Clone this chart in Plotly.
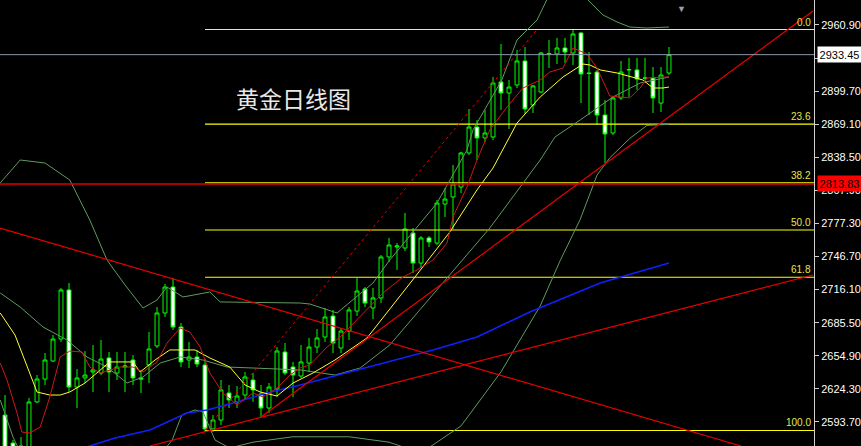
import plotly.graph_objects as go

# ---------------- candle data (daily gold) ----------------
opens = [2600.1, 2574.2, 2565.9, 2567.8, 2612.2, 2633.4, 2650.1, 2670.4, 2715.8, 2626.0,
         2634.4, 2639.9, 2639.0, 2652.9, 2639.0, 2644.5, 2651.0, 2634.4, 2646.4, 2664.0,
         2694.5, 2718.5, 2681.5, 2651.0, 2653.8, 2646.4, 2587.2, 2595.5, 2620.5, 2612.2,
         2618.6, 2632.5, 2619.6, 2606.6, 2624.2, 2658.4, 2644.5, 2636.2, 2648.2, 2663.0,
         2672.3, 2691.7, 2662.1, 2677.8, 2696.3, 2716.7, 2699.1, 2708.4, 2746.3, 2755.5,
         2754.6, 2768.5, 2740.7, 2763.9, 2759.2, 2795.3, 2801.8, 2811.0, 2842.5, 2866.5,
         2856.4, 2857.3, 2908.2, 2898.0, 2905.4, 2927.6, 2886.9, 2898.9, 2934.1, 2934.1,
         2939.6, 2935.0, 2953.5, 2916.5, 2917.4, 2877.6, 2861.0, 2893.4, 2919.3, 2919.3,
         2911.9, 2911.9, 2888.7, 2916.5]
highs = [2618.6, 2577.0, 2579.8, 2615.9, 2637.1, 2657.5, 2674.1, 2717.6, 2722.2, 2642.7,
         2659.3, 2664.9, 2669.5, 2658.4, 2658.4, 2658.4, 2655.6, 2641.8, 2676.9, 2700.0,
         2721.3, 2726.9, 2685.2, 2667.7, 2660.3, 2651.9, 2600.1, 2632.5, 2627.9, 2627.0,
         2639.9, 2639.0, 2627.9, 2629.7, 2663.0, 2666.7, 2649.2, 2664.9, 2671.4, 2679.7,
         2699.1, 2697.3, 2680.6, 2700.0, 2726.9, 2718.5, 2717.6, 2748.1, 2763.9, 2759.2,
         2787.0, 2773.1, 2765.7, 2765.7, 2799.0, 2810.1, 2831.4, 2843.4, 2883.2, 2873.0,
         2882.3, 2912.8, 2943.3, 2910.0, 2937.8, 2940.5, 2905.4, 2935.9, 2947.0, 2948.9,
         2948.9, 2957.2, 2954.4, 2935.9, 2919.3, 2891.5, 2895.2, 2927.6, 2930.4, 2930.4,
         2930.4, 2922.0, 2922.0, 2940.5]
lows = [2563.1, 2560.4, 2560.4, 2563.1, 2611.2, 2627.9, 2649.2, 2667.7, 2621.4, 2606.6,
        2629.7, 2621.4, 2637.1, 2621.4, 2632.5, 2621.4, 2627.9, 2620.5, 2629.7, 2662.1,
        2690.8, 2678.8, 2644.5, 2643.6, 2644.5, 2584.4, 2584.4, 2590.9, 2606.6, 2606.6,
        2614.0, 2612.2, 2598.3, 2602.0, 2616.8, 2637.1, 2616.8, 2634.4, 2639.9, 2657.5,
        2667.7, 2657.5, 2657.5, 2669.5, 2691.7, 2700.0, 2688.9, 2703.7, 2741.7, 2734.3,
        2751.8, 2731.5, 2736.1, 2755.5, 2757.4, 2783.3, 2772.2, 2805.5, 2840.6, 2836.0,
        2852.7, 2854.5, 2882.3, 2864.7, 2902.6, 2878.6, 2879.5, 2898.0, 2921.1, 2924.8,
        2925.7, 2923.9, 2888.7, 2877.6, 2868.4, 2833.2, 2859.1, 2891.5, 2894.3, 2900.8,
        2910.0, 2879.5, 2880.4, 2914.6]
closes = [2567.8, 2565.9, 2571.5, 2612.2, 2633.4, 2651.0, 2670.4, 2715.8, 2626.0, 2634.4,
          2637.1, 2641.8, 2651.9, 2639.9, 2644.5, 2645.5, 2634.4, 2633.4, 2661.2, 2694.5,
          2718.5, 2681.5, 2649.2, 2653.8, 2647.3, 2587.2, 2595.5, 2623.3, 2614.0, 2617.7,
          2635.3, 2623.3, 2606.6, 2626.0, 2659.3, 2639.0, 2637.1, 2649.2, 2663.0, 2671.4,
          2690.8, 2666.7, 2677.8, 2697.3, 2714.8, 2703.7, 2708.4, 2746.3, 2757.4, 2756.5,
          2772.2, 2740.7, 2763.9, 2760.2, 2796.2, 2799.9, 2813.8, 2842.5, 2866.5, 2856.4,
          2861.0, 2907.2, 2898.0, 2903.5, 2927.6, 2883.2, 2904.5, 2935.0, 2934.5, 2939.6,
          2935.9, 2952.6, 2915.6, 2916.0, 2877.6, 2860.1, 2893.4, 2917.4, 2919.6, 2910.9,
          2911.6, 2893.4, 2914.6, 2933.45]
bar_index = list(range(len(opens)))

# ---------------- indicator lines ----------------
ma_fast_x = [-0.6, 0.25, 1.5, 2.1, 3.1, 4.4, 5.6, 6.9, 8.1, 9.6, 10.6, 11.9, 14.4, 16.0, 17.25,
             19.0, 20.25, 21.9, 23.1, 24.4, 25.6, 27.25, 29.0, 31.0, 32.25, 34.0, 35.6, 36.9,
             38.1, 40.25, 41.9, 44.0, 45.6, 47.25, 49.75, 51.5, 53.5, 55.25, 56.0, 57.75, 59.0,
             60.6, 62.75, 64.75, 66.9, 68.1, 69.75, 71.0, 72.75, 74.0, 75.6, 78.1, 79.4, 80.25, 83.0]
ma_fast_y = [2648.2, 2632.5, 2602.0, 2584.4, 2583.5, 2589.0, 2616.8, 2653.8, 2659.3, 2658.4,
             2644.5, 2639.0, 2644.5, 2644.5, 2639.9, 2649.2, 2666.7, 2680.6, 2676.9, 2663.0,
             2639.0, 2620.5, 2609.4, 2620.5, 2616.8, 2625.1, 2637.1, 2643.6, 2646.4, 2663.0,
             2672.3, 2688.0, 2700.0, 2713.0, 2727.8, 2734.3, 2743.5, 2759.2, 2783.3, 2811.0,
             2836.0, 2863.8, 2885.0, 2902.6, 2910.0, 2917.4, 2921.1, 2939.6, 2934.1, 2921.1,
             2895.2, 2893.4, 2902.6, 2911.9, 2912.8]

ma_slow_x = [-0.6, 1.25, 4.0, 5.6, 6.9, 8.1, 10.0, 11.9, 13.1, 16.0, 16.9, 18.75, 20.6, 23.75,
             25.6, 28.1, 30.0, 31.9, 34.0, 36.0, 38.5, 41.25, 45.25, 51.25, 55.6, 59.0, 61.0,
             64.0, 66.9, 69.75, 72.25, 73.1, 74.4, 76.5, 78.5, 79.75, 81.0, 82.25, 83.0]
ma_slow_y = [2694.5, 2674.1, 2621.4, 2618.6, 2618.6, 2621.4, 2629.7, 2641.8, 2649.2, 2649.2,
             2639.9, 2651.0, 2660.3, 2660.3, 2652.9, 2644.5, 2627.9, 2621.4, 2617.7, 2629.7,
             2639.0, 2651.0, 2671.4, 2727.8, 2769.4, 2808.3, 2828.6, 2870.2, 2894.3, 2912.8,
             2924.8, 2923.9, 2919.3, 2916.5, 2912.8, 2910.0, 2902.6, 2902.6, 2903.5]

bb_up_x = [-0.6, 1.9, 5.0, 8.1, 10.6, 12.75, 15.0, 17.25, 19.0, 20.25, 22.25, 25.6, 26.9, 36.9,
           38.1, 41.5, 46.0, 48.1, 54.0, 57.75, 58.5, 62.1, 64.0, 66.5, 67.9, 70.0, 72.5,
           74.75, 76.5, 78.1, 80.25, 83.0]
bb_up_y = [2814.7, 2836.0, 2833.2, 2817.5, 2780.5, 2743.5, 2720.4, 2699.1, 2706.5, 2718.5,
           2709.3, 2713.9, 2704.7, 2703.7, 2702.8, 2694.5, 2722.2, 2743.5, 2796.2, 2845.3,
           2863.8, 2910.0, 2947.0, 2965.5, 2986.8, 2991.4, 2986.8, 2970.1, 2963.7, 2959.0,
           2958.1, 2959.0]

bb_mid_x = [-0.6, 1.9, 4.75, 7.75, 10.25, 12.75, 15.25, 17.25, 19.4, 21.9, 24.75, 27.75, 31.0,
            36.9, 41.25, 44.4, 48.1, 55.0, 60.6, 66.9, 68.75, 71.9, 76.0, 79.4, 83.0]
bb_mid_y = [2713.0, 2700.0, 2681.5, 2669.5, 2653.8, 2644.5, 2629.7, 2635.3, 2648.2, 2653.8,
            2651.0, 2644.5, 2643.6, 2641.8, 2637.1, 2643.6, 2664.9, 2725.0, 2773.1, 2836.0,
            2857.3, 2873.0, 2894.3, 2907.2, 2912.8]

bb_low_x = [-0.6, 1.0, 1.9, 18.1, 19.4, 20.9, 22.1, 23.75, 24.75, 26.25, 28.1, 31.0, 36.0,
            43.0, 48.0, 52.0, 57.0, 62.0, 66.9, 69.4, 71.9, 74.0, 75.6, 78.1, 80.25, 83.0]
bb_low_y = [2614.0, 2579.8, 2565.9, 2558.5, 2563.1, 2577.0, 2600.1, 2604.8, 2602.9, 2577.0,
            2569.6, 2575.0, 2580.0, 2580.0, 2575.0, 2565.0, 2590.0, 2640.0, 2701.0, 2743.0,
            2781.0, 2822.0, 2838.0, 2856.0, 2868.0, 2869.0]

ma_long_x = [6.9, 10.6, 13.75, 18.1, 22.75, 25.25, 28.5, 32.75, 36.9, 53.5, 59.0, 65.6, 74.4, 83.0]
ma_long_y = [2558.5, 2571.5, 2578.9, 2586.3, 2602.0, 2604.8, 2611.2, 2620.5, 2627.9, 2660.3,
             2672.3, 2695.4, 2722.2, 2740.7]

# ---------------- drawn objects ----------------
trend_down_x = [-0.625, 92.0]
trend_down_y = [2773.1, 2571.45]
trend_up1_x = [18.1, 101.0]
trend_up1_y = [2571.45, 2729.6]
trend_up2_x = [32.0, 101.0]
trend_up2_y = [2598.3, 2973.8]
fib_diag_x = [25.0, 66.5]
fib_diag_y = [2585.8, 2956.7]
fib_start, fib_end = 25.0, 101.125
fib_names = ["0.0", "23.6", "38.2", "50.0", "61.8", "100.0"]
fib_prices = [2956.7, 2869.2, 2815.0, 2771.3, 2727.5, 2585.8]

support_price = 2813.83
last_price = 2933.45
tick_vals = [2960.90, 2930.30, 2899.70, 2869.10, 2838.50, 2807.90, 2777.30, 2746.70,
             2716.10, 2685.50, 2654.90, 2624.30, 2593.70]
hidden_ticks = [2930.30]
title_text = "黄金日线图"
title_pos = (36.0, 2893.3)
shift_marker_pos = (84.6, 2984.0)

# ---------------- figure ----------------
LIME = "#00ff00"
fig = go.Figure()

fig.add_trace(go.Candlestick(
    x=bar_index, open=opens, high=highs, low=lows, close=closes,
    increasing=dict(line=dict(color=LIME, width=1), fillcolor="black"),
    decreasing=dict(line=dict(color=LIME, width=1), fillcolor="white"),
    whiskerwidth=0, showlegend=False, hoverinfo="skip"))

def line(x, y, color, width=1.0, dash=None):
    fig.add_trace(go.Scatter(x=x, y=y, mode="lines",
                             line=dict(color=color, width=width, dash=dash),
                             showlegend=False, hoverinfo="skip"))

# fib horizontal levels
for p in fib_prices:
    line([fib_start, fib_end], [p, p], "#ffff00", 1.1)

line(bb_up_x, bb_up_y, "#609a60")
line(bb_mid_x, bb_mid_y, "#609a60")
line(bb_low_x, bb_low_y, "#609a60")
line(ma_long_x, ma_long_y, "#1020ff", 1.5)
line(ma_slow_x, ma_slow_y, "#ffff33")
line(ma_fast_x, ma_fast_y, "#d01818")
line(trend_down_x, trend_down_y, "#e80000", 1.2)
line(trend_up1_x, trend_up1_y, "#e80000", 1.2)
line(trend_up2_x, trend_up2_y, "#e80000", 1.2)
line(fib_diag_x, fib_diag_y, "#e00000", 1, "dot")

shapes = [
    dict(type="line", xref="paper", x0=0, x1=1, yref="y", y0=last_price, y1=last_price,
         line=dict(color="#8899aa", width=1)),
    dict(type="line", xref="paper", x0=0, x1=1, yref="y", y0=support_price, y1=support_price,
         line=dict(color="#e00000", width=1.4)),
]

annotations = [
    dict(text=title_text, x=title_pos[0], xref="x", y=title_pos[1], yref="y", showarrow=False,
         font=dict(family="Noto Sans CJK SC", size=23, color="#e8e8e8"),
         xanchor="center", yanchor="middle"),
    dict(text="▼", x=shift_marker_pos[0], xref="x", y=shift_marker_pos[1], yref="y",
         yanchor="top", showarrow=False, font=dict(size=9, color="#a0a0a0")),
    dict(text=f"{last_price:.2f}", xref="paper", x=1, xshift=3, xanchor="left",
         y=last_price, yref="y", yanchor="middle", showarrow=False, bgcolor="white",
         font=dict(family="Liberation Sans", size=11, color="black"), width=41, height=13),
    dict(text=f"{support_price:.2f}", xref="paper", x=1, xshift=3, xanchor="left",
         y=support_price, yref="y", yanchor="middle", showarrow=False, bgcolor="#ff0000",
         font=dict(family="Liberation Sans", size=11, color="black"), width=41, height=13),
]
for name, p in zip(fib_names, fib_prices):
    annotations.append(dict(text=name, x=fib_end, xref="x", xanchor="right", xshift=-1,
                            y=p, yref="y", yanchor="bottom", showarrow=False,
                            font=dict(family="Liberation Sans", size=10, color="#e6e64c")))

fig.update_layout(
    width=861, height=446,
    margin=dict(l=0, r=47, t=0, b=0, pad=0),
    paper_bgcolor="black", plot_bgcolor="black",
    shapes=shapes, annotations=annotations,
    xaxis=dict(range=[-0.625, 101.125], showgrid=False, zeroline=False, automargin=False,
               showticklabels=False, rangeslider=dict(visible=False), fixedrange=True),
    yaxis=dict(range=[2571.45, 2984.0], side="right", showgrid=False, zeroline=False,
               automargin=False,
               tickvals=tick_vals,
               ticktext=["" if v in hidden_ticks else f"{v:.2f}" for v in tick_vals],
               ticks="outside", ticklen=4, tickcolor="#d0d0d0",
               showline=True, linecolor="#d0d0d0", linewidth=1,
               tickfont=dict(family="Liberation Sans", size=11, color="white")),
    showlegend=False,
)

fig.write_html("out.html", config={"displayModeBar": False},
               post_script="document.body.style.margin='0px';"
                           "document.body.style.background='black';")
